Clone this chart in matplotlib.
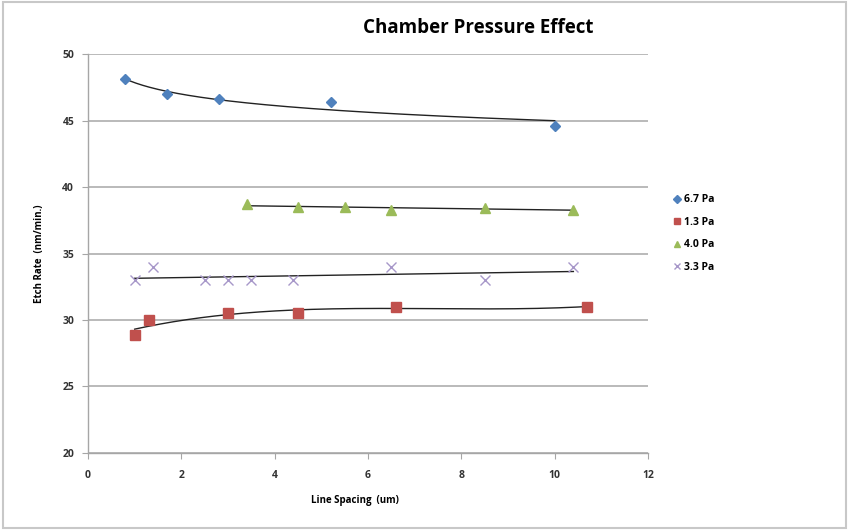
import numpy as np
import matplotlib
matplotlib.use("Agg")
import matplotlib.pyplot as plt
from matplotlib.patches import Rectangle

plt.rcParams["font.family"] = ["Open Sans", "DejaVu Sans"]

# data
x_67 = [0.8, 1.7, 2.8, 5.2, 10.0]
y_67 = [48.1, 47.0, 46.6, 46.4, 44.6]

x_13 = [1.0, 1.3, 3.0, 4.5, 6.6, 10.7]
y_13 = [28.9, 30.0, 30.5, 30.5, 31.0, 31.0]

x_40 = [3.4, 4.5, 5.5, 6.5, 8.5, 10.4]
y_40 = [38.7, 38.5, 38.5, 38.3, 38.4, 38.3]

x_33 = [1.0, 1.4, 2.5, 3.0, 3.5, 4.4, 6.5, 8.5, 10.4]
y_33 = [33, 34, 33, 33, 33, 33, 34, 33, 34]

x_ticks = [0, 2, 4, 6, 8, 10, 12]
y_ticks = [20, 25, 30, 35, 40, 45, 50]


def log_trend(x, y):
    b, a = np.polyfit(np.log(x), y, 1)
    xs = np.linspace(min(x), max(x), 200)
    return xs, a + b * np.log(xs)


def poly_trend(x, y, deg):
    p = np.polyfit(x, y, deg)
    xs = np.linspace(min(x), max(x), 200)
    return xs, np.polyval(p, xs)


fig = plt.figure(figsize=(8.49, 5.31), dpi=100)
fig.patches.append(Rectangle((0.004, 0.006), 0.992, 0.99, transform=fig.transFigure,
                             fill=False, edgecolor="#c8c8c8", linewidth=1.5))
ax = fig.add_axes([0.1037, 0.147, 0.6596, 0.751])

s1, = ax.plot(x_67, y_67, "D", color="#4f81bd", markersize=5, label="6.7 Pa", zorder=3)
s2, = ax.plot(x_13, y_13, "s", color="#c0504d", markersize=6.5, label="1.3 Pa", zorder=3)
s3, = ax.plot(x_40, y_40, "^", color="#9bbb59", markersize=6.5, label="4.0 Pa", zorder=3)
s4, = ax.plot(x_33, y_33, "x", color="#a797c9", markersize=6.5, markeredgewidth=1,
              label="3.3 Pa", zorder=3)

for xs, ys in [log_trend(x_67, y_67), poly_trend(x_13, y_13, 3),
               poly_trend(x_40, y_40, 1), poly_trend(x_33, y_33, 1)]:
    ax.plot(xs, ys, color="#222222", linewidth=1, zorder=2)

ax.set_xlim(0, 12)
ax.set_ylim(20, 50)
ax.set_xticks(x_ticks)
ax.set_yticks(y_ticks)
ax.yaxis.grid(True, color="#b4b4b4", linewidth=1.3)
ax.set_axisbelow(True)
for side in ["top", "right"]:
    ax.spines[side].set_visible(False)
for side in ["left", "bottom"]:
    ax.spines[side].set_color("#a6a6a6")
    ax.spines[side].set_linewidth(1)
ax.tick_params(axis="both", direction="out", length=4, color="#a6a6a6", labelsize=7.5)
ax.tick_params(axis="x", pad=8)
ax.tick_params(axis="y", pad=6)
for lab in ax.get_xticklabels() + ax.get_yticklabels():
    lab.set_fontweight("bold")
    lab.set_color("#333333")

ax.set_xlabel("Line Spacing  (um)", fontsize=7, fontweight="bold")
ax.xaxis.set_label_coords(0.477, -0.105)
ax.set_ylabel("Etch Rate  (nm/min.)", fontsize=7, fontweight="bold")
ax.yaxis.set_label_coords(-0.076, 0.5)
fig.text(0.563, 0.947, "Chamber Pressure Effect", ha="center", va="center",
         fontsize=13.5, fontweight="bold")

leg = fig.legend(handles=[s1, s2, s3, s4], loc="upper left",
                 bbox_to_anchor=(0.79, 0.642), frameon=False, fontsize=7.5,
                 labelspacing=1.1, handlelength=0.5, handletextpad=0.4,
                 markerscale=0.75, borderaxespad=0)
for t in leg.get_texts():
    t.set_fontweight("bold")

fig.savefig("out.png", dpi=100)
